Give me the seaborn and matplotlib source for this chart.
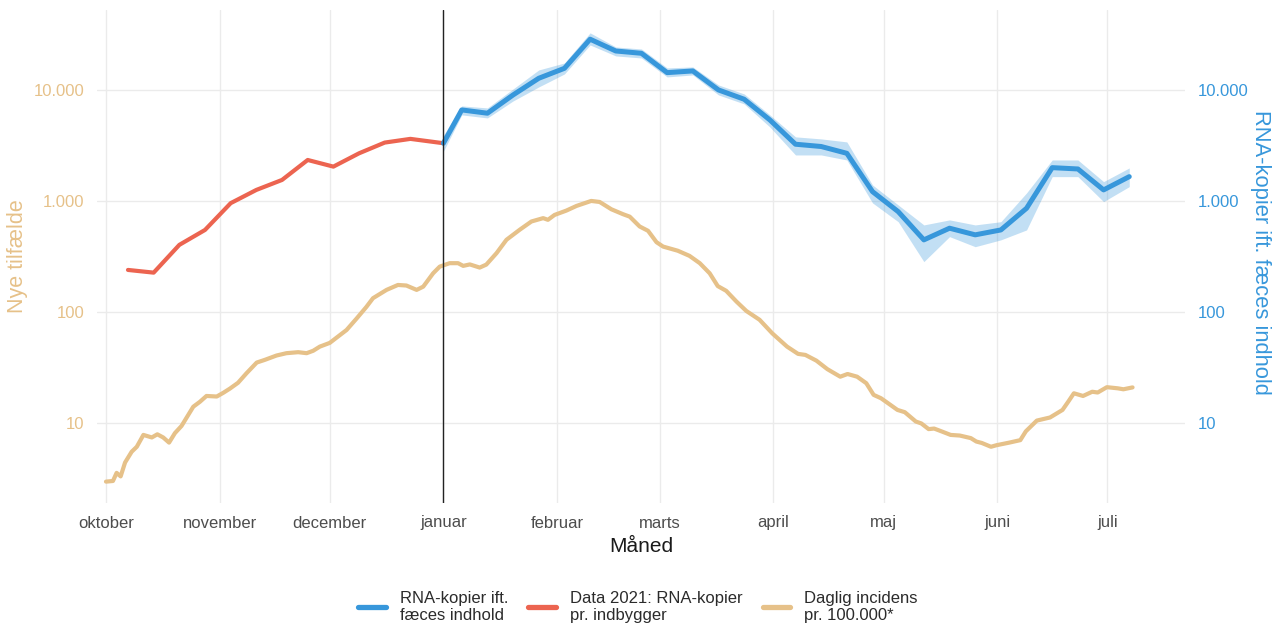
import numpy as np
import pandas as pd
import matplotlib
matplotlib.use("Agg")
import matplotlib.pyplot as plt
from matplotlib.lines import Line2D
from matplotlib.ticker import FixedLocator, FixedFormatter, NullLocator
import seaborn as sns

# ---------------- data ----------------
START = pd.Timestamp("2020-10-01")

month_starts = ["2020-10-01", "2020-11-01", "2020-12-01", "2021-01-01", "2021-02-01",
                "2021-03-01", "2021-04-01", "2021-05-01", "2021-06-01", "2021-07-01"]
month_labels = ["oktober", "november", "december", "januar", "februar",
                "marts", "april", "maj", "juni", "juli"]

# Daglig incidens pr. 100.000* (days after 1 Oct 2020)
incid_days = [0, 1.9, 2.9, 4.0, 5.2, 7.0, 8.4, 10.2, 12.5, 14.0, 15.6, 17.2, 18.8, 20.6,
              23.8, 25.6, 27.4, 30.2, 32.0, 33.8, 36.0, 38.3, 41.1, 43.3, 46.5, 49.2,
              52.4, 54.7, 56.5, 58.3, 61.0, 65.6, 68.3, 71.0, 72.8, 76.5, 79.6, 81.9,
              84.7, 86.5, 89.2, 91.0, 93.7, 96.0, 97.4, 99.2, 101.9, 103.7, 106.5, 109.2,
              112.8, 116.0, 119.2, 120.5, 122.3, 125.5, 128.3, 132.3, 134.6, 137.8, 141.0,
              142.8, 145.5, 147.8, 150.1, 151.9, 155.9, 159.1, 161.9, 164.6, 166.8, 169.1,
              171.9, 174.6, 178.2, 181.7, 185.7, 188.7, 190.7, 193.7, 196.7, 200.2, 202.2,
              204.8, 207.3, 209.3, 211.3, 213.3, 215.8, 217.8, 220.8, 222.3, 224.3, 225.8,
              227.8, 230.3, 232.8, 235.8, 237.3, 238.8, 241.3, 242.8, 246.3, 249.3, 250.8,
              253.8, 257.4, 260.8, 262.4, 263.9, 266.4, 268.9, 270.4, 272.9, 275.9, 277.4,
              279.9]
incid_vals = [2.96, 3.0, 3.55, 3.3, 4.4, 5.5, 6.1, 7.8, 7.4, 7.9, 7.4, 6.65, 8.1, 9.4,
              14, 15.5, 17.5, 17.3, 18.7, 20.4, 23, 28, 35, 37, 40.5, 42.5,
              43.4, 42.5, 44.7, 48.7, 52.6, 68.8, 87, 111, 133, 158, 175, 173,
              158, 169, 223, 256, 275, 275, 260, 268, 251, 267, 339, 447,
              550, 653, 700, 676, 748, 818, 902, 1000, 979, 841, 759,
              722, 589, 538, 425, 388, 356, 320, 275, 223, 171, 155,
              124, 102, 85, 64, 48.7, 41.9, 41, 36.4, 30.5, 26.1, 27.6,
              26.1, 22.8, 17.9, 16.7, 15, 13.1, 12.5, 10.3, 9.9, 8.8, 8.9,
              8.4, 7.8, 7.7, 7.3, 6.8, 6.6, 6.1, 6.3, 6.65, 7.0, 8.4,
              10.5, 11.2, 13.1, 15.6, 18.5, 17.5, 19.1, 18.8, 21, 20.5, 20.1,
              20.9]

# Data 2021: RNA-kopier pr. indbygger
red_days = [6, 13, 20, 27, 34, 41, 48, 55, 62, 69, 76, 83, 92]
red_vals = [239, 226, 402, 548, 955, 1257, 1546, 2339, 2038, 2686, 3356, 3623, 3311]

# RNA-kopier ift. fæces indhold (with uncertainty band)
blue_days = [92, 97, 104, 111, 118, 125, 132, 139, 146, 153, 160, 167, 174, 181,
             188, 195, 202, 209, 216, 223, 230, 237, 244, 251, 258, 265, 272, 279]
blue_vals = [3311, 6607, 6170, 9016, 12740, 15660, 28650, 22430, 21390, 14320, 14830,
             10000, 8245, 5370, 3243, 3093, 2686, 1213, 801, 446, 568, 495, 548, 859,
             1995, 1941, 1257, 1655]
blue_low = [2800, 5959, 5594, 7956, 10640, 13930, 25420, 20250, 19410, 13100, 13650,
            9016, 7483, 4641, 2596, 2596, 2339, 960, 650, 284, 477, 387, 446, 548,
            1656, 1656, 986, 1346]
blue_high = [3900, 7178, 6887, 10210, 15140, 17500, 32680, 24370, 23390, 15790, 16110,
             11090, 9204, 5959, 3778, 3622, 3403, 1393, 920, 608, 675, 608, 650, 1181,
             2339, 2339, 1493, 1983]

y_ticks = [10, 100, 1000, 10000]
y_tick_labels = ["10", "100", "1.000", "10.000"]

legend_labels = ["RNA-kopier ift.\nfæces indhold",
                 "Data 2021: RNA-kopier\npr. indbygger",
                 "Daglig incidens\npr. 100.000*"]

# ---------------- style ----------------
BLUE = "#3797db"
RED = "#ec6450"
TAN = "#e6c189"
GRID = "#ebebeb"

sns.set_theme(style="white")
plt.rcParams["font.family"] = ["Liberation Sans", "DejaVu Sans"]


def to_dates(days):
    return START + pd.to_timedelta(np.asarray(days, dtype=float), unit="D")


df_inc = pd.DataFrame({"dato": to_dates(incid_days), "værdi": incid_vals})
df_red = pd.DataFrame({"dato": to_dates(red_days), "værdi": red_vals})
df_blue = pd.DataFrame({"dato": to_dates(blue_days), "værdi": blue_vals,
                        "lav": blue_low, "høj": blue_high})

W, H = 1276, 631
fig = plt.figure(figsize=(W / 100, H / 100), dpi=100)
pl, pr, pt, pb = 97, 1185, 10, 503
ax = fig.add_axes([pl / W, 1 - pb / H, (pr - pl) / W, (pb - pt) / H])
ax.set_yscale("log")

# grid
for m in month_starts:
    ax.axvline(pd.Timestamp(m), color=GRID, lw=1.0, zorder=0)
for t in y_ticks:
    ax.axhline(t, color=GRID, lw=1.0, zorder=0)

sns.lineplot(data=df_inc, x="dato", y="værdi", color=TAN, lw=3.0, ax=ax, zorder=3)
sns.lineplot(data=df_red, x="dato", y="værdi", color=RED, lw=3.0, ax=ax, zorder=3)
ax.fill_between(df_blue["dato"], df_blue["lav"], df_blue["høj"], color=BLUE,
                alpha=0.3, lw=0, zorder=4)
sns.lineplot(data=df_blue, x="dato", y="værdi", color=BLUE, lw=3.6, ax=ax, zorder=5)

ax.axvline(pd.Timestamp("2021-01-01"), color="#222222", lw=1.0, zorder=6)

ax.set_xlim(START - pd.Timedelta(days=2.45), START + pd.Timedelta(days=294.2))
ax.set_ylim(1.90, 52500)

ax.xaxis.set_major_locator(FixedLocator([matplotlib.dates.date2num(pd.Timestamp(m)) for m in month_starts]))
ax.xaxis.set_major_formatter(FixedFormatter(month_labels))
ax.yaxis.set_major_locator(FixedLocator(y_ticks))
ax.yaxis.set_major_formatter(FixedFormatter(y_tick_labels))
ax.yaxis.set_minor_locator(NullLocator())
ax.tick_params(axis="x", length=0, pad=9, labelsize=12, labelcolor="#4d4d4d")
ax.tick_params(axis="y", length=0, pad=9, labelsize=12, labelcolor=TAN)
ax.set_xlabel("")
ax.set_ylabel("")
ax.grid(False)
for s in ax.spines.values():
    s.set_visible(False)

ax2 = ax.twinx()
ax2.set_yscale("log")
ax2.set_ylim(ax.get_ylim())
ax2.yaxis.set_major_locator(FixedLocator(y_ticks))
ax2.yaxis.set_major_formatter(FixedFormatter(y_tick_labels))
ax2.yaxis.set_minor_locator(NullLocator())
ax2.tick_params(axis="y", length=0, pad=9, labelsize=12, labelcolor=BLUE)
ax2.grid(False)
for s in ax2.spines.values():
    s.set_visible(False)

# axis titles
fig.text(641 / W, 1 - 546 / H, "Måned", ha="center", va="center", fontsize=15, color="#1a1a1a")
fig.text(18 / W, 1 - 256 / H, "Nye tilfælde", ha="center", va="center", rotation=90,
         fontsize=15.5, color=TAN)
fig.text(1260 / W, 1 - 252 / H, "RNA-kopier ift. fæces indhold", ha="center", va="center",
         rotation=-90, fontsize=15.8, color=BLUE)

handles = [Line2D([], [], color=BLUE, lw=3.8),
           Line2D([], [], color=RED, lw=3.8),
           Line2D([], [], color=TAN, lw=3.8)]
leg = fig.legend(handles, legend_labels, loc="center", bbox_to_anchor=(0.5, 1 - 607 / H),
                 ncol=3, frameon=False, fontsize=12, handlelength=1.65, handletextpad=0.85,
                 columnspacing=1.2)
for t in leg.get_texts():
    t.set_linespacing(1.1)
    t.set_color("#2b2b2b")

fig.savefig("out.png", dpi=100)
